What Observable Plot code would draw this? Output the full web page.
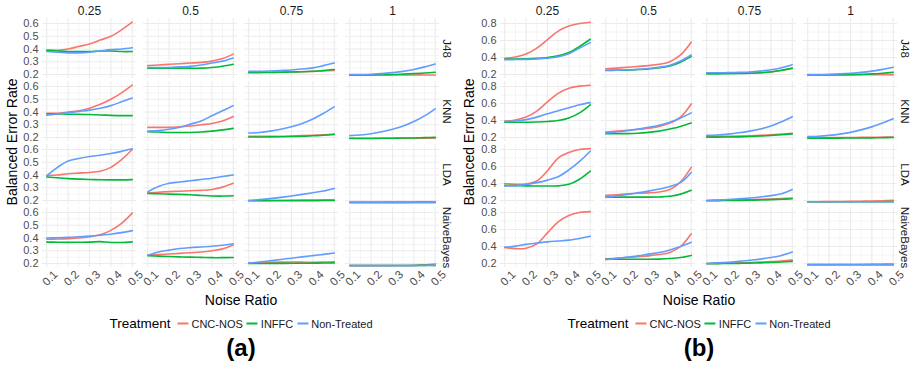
<!DOCTYPE html>
<html>
<head>
<meta charset="utf-8">
<script src="https://cdn.jsdelivr.net/npm/d3@7"></script>
<script src="https://cdn.jsdelivr.net/npm/@observablehq/plot@0.6"></script>
<style>
  body { margin: 0; background: #fff; }
  #wrap { position: relative; width: 916px; height: 369px; font-family: 'Liberation Sans', Arial, sans-serif; overflow: hidden; }
  .abs { position: absolute; white-space: nowrap; }
  .ytitle { font-size: 14px; color: #000; width: 240px; text-align: center; transform: translate(-50%, -50%) rotate(-90deg); }
  .xtitle { font-size: 14px; color: #000; transform: translate(-50%, -50%); }
  .legend { font-size: 11px; color: #1a1a1a; transform: translate(-50%, -50%); display: flex; align-items: center; }
  .legend .lt { font-size: 13.5px; color: #000; margin-right: 3px; }
  .legend .sw { display: inline-block; width: 11px; height: 2px; margin: 0 3px 0 4px; }
  .cap { font-size: 24px; font-weight: bold; color: #000; transform: translate(-50%, -50%); }
</style>
</head>
<body>
<div id="wrap">
  <div id="pa" class="abs" style="left:0;top:0"></div>
  <div id="pb" class="abs" style="left:456px;top:0"></div>
</div>
<script>
// ---------- data ----------
const noise = [0.1, 0.15, 0.2, 0.25, 0.3, 0.35, 0.4, 0.45, 0.5];
const ratios = ["0.25", "0.5", "0.75", "1"];
const classifiers = ["J48", "KNN", "LDA", "NaiveBayes"];
const treatments = ["CNC-NOS", "INFFC", "Non-Treated"];
const treatColors = ["#F8766D", "#00BA38", "#619CFF"];
const xTicks = [0.1, 0.2, 0.3, 0.4, 0.5];
const xMinor = [0.15, 0.25, 0.35, 0.45];
const yTicksA = [0.2, 0.3, 0.4, 0.5, 0.6];
const yMinorA = [0.25, 0.35, 0.45, 0.55];
const yTicksB = [0.2, 0.4, 0.6, 0.8];
const yMinorB = [0.3, 0.5, 0.7];
const panelLabels = ["(a)", "(b)"];
const yTitle = "Balanced Error Rate";
const xTitle = "Noise Ratio";
const legendTitle = "Treatment";

// panel (a): [classifier][ratio] -> values at noise levels
const a_cnc = [
  [[0.39,0.39,0.40,0.42,0.44,0.47,0.50,0.55,0.61],
   [0.27,0.275,0.28,0.285,0.29,0.295,0.305,0.325,0.36],
   [0.218,0.218,0.218,0.22,0.22,0.222,0.225,0.228,0.232],
   [0.197,0.197,0.197,0.197,0.197,0.197,0.197,0.197,0.196]],
  [[0.39,0.39,0.40,0.41,0.43,0.46,0.50,0.55,0.61],
   [0.28,0.28,0.28,0.285,0.29,0.30,0.31,0.33,0.365],
   [0.21,0.21,0.21,0.21,0.212,0.215,0.218,0.222,0.228],
   [0.195,0.195,0.195,0.195,0.195,0.195,0.195,0.195,0.195]],
  [[0.395,0.40,0.41,0.415,0.42,0.43,0.46,0.52,0.60],
   [0.258,0.265,0.27,0.273,0.277,0.28,0.287,0.305,0.335],
   [0.20,0.201,0.202,0.202,0.203,0.203,0.204,0.205,0.206],
   [0.185,0.185,0.185,0.185,0.186,0.186,0.187,0.188,0.19]],
  [[0.39,0.392,0.395,0.40,0.41,0.425,0.46,0.515,0.595],
   [0.265,0.27,0.275,0.28,0.285,0.29,0.30,0.315,0.345],
   [0.205,0.207,0.209,0.211,0.212,0.211,0.21,0.211,0.213],
   [0.184,0.184,0.184,0.184,0.184,0.185,0.186,0.19,0.197]]
];
const a_inffc = [
  [[0.39,0.385,0.38,0.38,0.38,0.385,0.385,0.38,0.38],
   [0.25,0.25,0.25,0.25,0.25,0.25,0.255,0.265,0.28],
   [0.215,0.215,0.216,0.218,0.22,0.222,0.226,0.232,0.24],
   [0.196,0.196,0.197,0.198,0.2,0.203,0.207,0.212,0.218]],
  [[0.385,0.385,0.383,0.382,0.38,0.377,0.374,0.372,0.372],
   [0.245,0.243,0.24,0.24,0.24,0.243,0.25,0.26,0.272],
   [0.204,0.204,0.205,0.206,0.208,0.21,0.214,0.218,0.224],
   [0.192,0.192,0.193,0.194,0.195,0.196,0.197,0.199,0.201]],
  [[0.385,0.378,0.372,0.368,0.365,0.363,0.362,0.362,0.364],
   [0.255,0.253,0.25,0.248,0.245,0.24,0.236,0.235,0.237],
   [0.198,0.198,0.198,0.198,0.198,0.199,0.199,0.2,0.2],
   [0.186,0.186,0.186,0.186,0.186,0.186,0.186,0.186,0.186]],
  [[0.368,0.367,0.366,0.367,0.368,0.372,0.365,0.365,0.37],
   [0.262,0.258,0.255,0.252,0.25,0.248,0.246,0.246,0.247],
   [0.2,0.2,0.201,0.201,0.202,0.202,0.203,0.204,0.205],
   [0.185,0.185,0.185,0.185,0.185,0.185,0.185,0.186,0.186]]
];
const a_non = [
  [[0.38,0.375,0.37,0.37,0.375,0.385,0.395,0.40,0.41],
   [0.255,0.255,0.255,0.26,0.265,0.275,0.29,0.305,0.33],
   [0.225,0.225,0.228,0.232,0.236,0.243,0.252,0.27,0.29],
   [0.2,0.2,0.202,0.207,0.215,0.225,0.24,0.26,0.283]],
  [[0.375,0.385,0.395,0.405,0.415,0.43,0.45,0.48,0.51],
   [0.25,0.255,0.265,0.28,0.305,0.33,0.37,0.41,0.45],
   [0.235,0.24,0.25,0.265,0.285,0.31,0.345,0.39,0.44],
   [0.215,0.22,0.23,0.245,0.265,0.29,0.325,0.37,0.425]],
  [[0.395,0.46,0.51,0.53,0.545,0.555,0.568,0.585,0.605],
   [0.268,0.31,0.335,0.345,0.355,0.365,0.375,0.388,0.40],
   [0.2,0.207,0.215,0.225,0.236,0.248,0.261,0.275,0.295],
   [0.186,0.186,0.186,0.186,0.186,0.186,0.186,0.186,0.186]],
  [[0.40,0.402,0.405,0.41,0.415,0.422,0.43,0.442,0.458],
   [0.265,0.29,0.305,0.318,0.325,0.33,0.335,0.343,0.355],
   [0.203,0.212,0.222,0.232,0.242,0.252,0.262,0.272,0.282],
   [0.184,0.184,0.184,0.184,0.184,0.184,0.184,0.185,0.186]]
];

// panel (b)
const b_cnc = [
  [[0.39,0.405,0.44,0.51,0.61,0.71,0.77,0.80,0.815],
   [0.267,0.275,0.285,0.295,0.305,0.32,0.35,0.43,0.58],
   [0.215,0.215,0.215,0.216,0.218,0.222,0.232,0.248,0.27],
   [0.197,0.197,0.197,0.197,0.197,0.197,0.197,0.197,0.196]],
  [[0.39,0.405,0.44,0.51,0.62,0.72,0.78,0.805,0.815],
   [0.265,0.275,0.285,0.295,0.31,0.33,0.37,0.44,0.595],
   [0.213,0.213,0.214,0.216,0.22,0.225,0.232,0.24,0.25],
   [0.198,0.198,0.198,0.199,0.2,0.201,0.202,0.204,0.206]],
  [[0.40,0.39,0.395,0.43,0.55,0.70,0.765,0.80,0.81],
   [0.26,0.268,0.278,0.285,0.29,0.30,0.33,0.42,0.59],
   [0.2,0.202,0.204,0.207,0.21,0.214,0.218,0.223,0.23],
   [0.186,0.186,0.187,0.188,0.19,0.192,0.195,0.198,0.202]],
  [[0.39,0.375,0.38,0.43,0.56,0.69,0.765,0.80,0.81],
   [0.255,0.262,0.27,0.28,0.29,0.305,0.33,0.40,0.55],
   [0.2,0.202,0.205,0.208,0.212,0.217,0.223,0.23,0.24],
   [0.19,0.19,0.19,0.191,0.192,0.192,0.193,0.194,0.195]]
];
const b_inffc = [
  [[0.38,0.382,0.385,0.39,0.40,0.42,0.46,0.53,0.615],
   [0.248,0.25,0.252,0.258,0.265,0.28,0.30,0.345,0.41],
   [0.208,0.208,0.21,0.212,0.215,0.22,0.23,0.25,0.275],
   [0.194,0.194,0.195,0.196,0.198,0.202,0.207,0.215,0.225]],
  [[0.38,0.38,0.38,0.382,0.388,0.40,0.43,0.49,0.585],
   [0.245,0.245,0.246,0.25,0.26,0.275,0.30,0.33,0.37],
   [0.205,0.205,0.206,0.208,0.212,0.217,0.224,0.233,0.243],
   [0.192,0.192,0.193,0.193,0.194,0.195,0.196,0.198,0.2]],
  [[0.378,0.375,0.372,0.37,0.37,0.372,0.39,0.45,0.545],
   [0.24,0.24,0.24,0.24,0.24,0.242,0.25,0.275,0.32],
   [0.198,0.199,0.2,0.202,0.204,0.207,0.21,0.214,0.22],
   [0.185,0.185,0.185,0.185,0.185,0.185,0.186,0.186,0.187]],
  [null,
   [0.25,0.25,0.25,0.25,0.25,0.252,0.258,0.27,0.295],
   [0.198,0.199,0.2,0.202,0.205,0.208,0.212,0.218,0.225],
   [0.185,0.185,0.185,0.185,0.185,0.185,0.185,0.186,0.187]]
];
const b_non = [
  [[0.375,0.376,0.378,0.383,0.392,0.41,0.445,0.51,0.575],
   [0.25,0.252,0.255,0.26,0.27,0.285,0.31,0.36,0.43],
   [0.22,0.22,0.222,0.225,0.23,0.24,0.255,0.28,0.315],
   [0.20,0.20,0.203,0.208,0.215,0.225,0.24,0.26,0.285]],
  [[0.39,0.395,0.41,0.44,0.48,0.515,0.55,0.585,0.61],
   [0.255,0.265,0.28,0.30,0.32,0.345,0.38,0.43,0.49],
   [0.225,0.23,0.24,0.255,0.275,0.30,0.335,0.385,0.445],
   [0.21,0.215,0.225,0.24,0.26,0.29,0.325,0.37,0.42]],
  [[0.37,0.375,0.39,0.41,0.44,0.48,0.56,0.66,0.78],
   [0.24,0.255,0.27,0.29,0.31,0.335,0.365,0.41,0.53],
   [0.2,0.205,0.212,0.22,0.23,0.242,0.257,0.28,0.33],
   [0.185,0.185,0.185,0.185,0.185,0.185,0.185,0.185,0.185]],
  [[0.39,0.405,0.425,0.44,0.455,0.465,0.475,0.495,0.52],
   [0.245,0.26,0.275,0.29,0.31,0.33,0.36,0.40,0.45],
   [0.20,0.207,0.215,0.225,0.238,0.252,0.27,0.295,0.335],
   [0.185,0.185,0.185,0.185,0.185,0.185,0.185,0.185,0.185]]
];

// ---------- chart ----------
function tidy(series) {
  const rows = [];
  series.forEach((byClf, t) => byClf.forEach((byRatio, ci) => byRatio.forEach((vals, ri) => {
    if (!vals) return;
    vals.forEach((v, k) => rows.push({treat: treatments[t], clf: classifiers[ci], ratio: ratios[ri], noise: noise[k], err: v}));
  })));
  return rows;
}

function facetPlot({series, yDomain, yTicks, yMinor, width, marginLeft, marginRight}) {
  const rows = tidy(series);
  const grid = {stroke: "#ebebeb", strokeOpacity: 1};
  return Plot.plot({
    width, height: 310,
    marginTop: 18, marginBottom: 43, marginLeft, marginRight,
    style: {fontFamily: "'Liberation Sans', Arial, sans-serif", background: "white", overflow: "visible"},
    fx: {domain: ratios, paddingInner: 0.065, paddingOuter: 0, axis: null},
    fy: {domain: classifiers, paddingInner: 0.048, paddingOuter: 0, axis: null},
    x: {domain: [0.08, 0.52]},
    y: {domain: yDomain},
    color: {domain: treatments, range: treatColors},
    marks: [
      Plot.gridX(xMinor, {...grid, strokeWidth: 0.55}),
      Plot.gridY(yMinor, {...grid, strokeWidth: 0.55}),
      Plot.gridX(xTicks, {...grid, strokeWidth: 1.1}),
      Plot.gridY(yTicks, {...grid, strokeWidth: 1.1}),
      Plot.axisY(yTicks, {anchor: "left", tickSize: 0, tickPadding: 4, label: null,
        tickFormat: d => d.toFixed(1), fontSize: 11, fill: "#4d4d4d"}),
      Plot.axisX(xTicks, {anchor: "bottom", tickSize: 0, tickPadding: 4, tickRotate: -45, label: null,
        tickFormat: d => d.toFixed(1), fontSize: 11.5, fill: "#4d4d4d", dx: 9, dy: 1}),
      Plot.text(ratios, {fx: d => d, fy: () => classifiers[0], text: d => d, frameAnchor: "top",
        lineAnchor: "middle", textAnchor: "middle", dy: -7, fontSize: 12, fill: "#1a1a1a"}),
      Plot.text(classifiers, {fy: d => d, fx: () => ratios[ratios.length - 1], text: d => d,
        frameAnchor: "right", textAnchor: "middle", lineAnchor: "middle", rotate: 90, dx: 7,
        fontSize: 11.5, fill: "#1a1a1a"}),
      Plot.line(rows, {x: "noise", y: "err", z: "treat", stroke: "treat", fx: "ratio", fy: "clf",
        strokeWidth: 1.6, curve: "catmull-rom"})
    ]
  });
}

const wrap = document.getElementById("wrap");
document.getElementById("pa").append(facetPlot({
  series: [a_cnc, a_inffc, a_non], yDomain: [0.169, 0.639], yTicks: yTicksA, yMinor: yMinorA,
  width: 456, marginLeft: 40, marginRight: 15
}));
document.getElementById("pb").append(facetPlot({
  series: [b_cnc, b_inffc, b_non], yDomain: [0.153, 0.859], yTicks: yTicksB, yMinor: yMinorB,
  width: 460, marginLeft: 43, marginRight: 18
}));

// overlay titles, legends and captions
function addDiv(cls, x, y, html) {
  const d = document.createElement("div");
  d.className = "abs " + cls;
  d.style.left = x + "px";
  d.style.top = y + "px";
  d.innerHTML = html;
  wrap.append(d);
  return d;
}
const centers = [241, 699];
const yTitleX = [12, 469];
centers.forEach((cx, i) => {
  addDiv("ytitle", yTitleX[i], 142, yTitle);
  addDiv("xtitle", cx, 300, xTitle);
  const lg = addDiv("legend", cx, 323, "");
  const t = document.createElement("span");
  t.className = "lt"; t.textContent = legendTitle; lg.append(t);
  treatments.forEach((tr, k) => {
    const sw = document.createElement("span");
    sw.className = "sw"; sw.style.background = treatColors[k]; lg.append(sw);
    const lab = document.createElement("span");
    lab.textContent = tr; lg.append(lab);
  });
  addDiv("cap", cx, 348, panelLabels[i]);
});
</script>
</body>
</html>
